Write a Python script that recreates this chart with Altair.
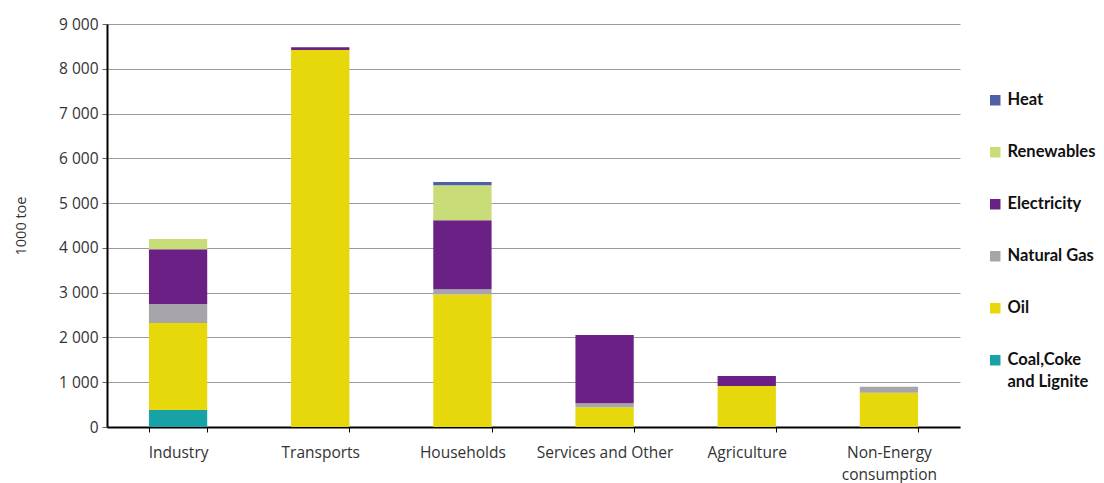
import altair as alt
import pandas as pd

categories = ["Industry", "Transports", "Households", "Services and Other",
              "Agriculture", "Non-Energy consumption"]
series = ["Coal,Coke and Lignite", "Oil", "Natural Gas", "Electricity", "Renewables", "Heat"]
coal = [380, 0, 0, 0, 0, 0]
oil = [1940, 8420, 2960, 440, 915, 765]
gas = [425, 0, 115, 90, 0, 135]
elec = [1225, 60, 1545, 1525, 225, 0]
renew = [230, 0, 780, 0, 0, 0]
heat = [0, 0, 70, 0, 0, 0]
colors = ["#18a2a5", "#e6d80a", "#a7a5ab", "#6b2085", "#c8dc78", "#4f5fa8"]

values = [coal, oil, gas, elec, renew, heat]
rows = []
for si, (s, vals) in enumerate(zip(series, values)):
    for c, v in zip(categories, vals):
        rows.append({"category": c, "series": s, "value": v, "order": si})
df = pd.DataFrame(rows)

legend_order = list(reversed(series))
legend_colors = list(reversed(colors))

FONT = "Open Sans"

chart = alt.Chart(df).mark_bar().encode(
    x=alt.X("category:N", sort=categories, title=None,
            scale=alt.Scale(paddingInner=0.59, paddingOuter=0.295),
            axis=alt.Axis(labelAngle=0, labelFontSize=15.5, labelColor="#333333",
                          labelFont=FONT, labelPadding=13, tickBand="extent",
                          labelLineHeight=22,
                          tickColor="#000000", tickSize=5, domainColor="#000000",
                          domainWidth=2,
                          labelExpr="datum.value == 'Non-Energy consumption' ? ['Non-Energy', 'consumption'] : datum.value")),
    y=alt.Y("value:Q", stack="zero", title="1000 toe",
            scale=alt.Scale(domain=[0, 9000], nice=False),
            axis=alt.Axis(values=list(range(0, 9001, 1000)), labelFontSize=15.5,
                          labelColor="#333333", labelFont=FONT, labelPadding=4,
                          labelExpr="replace(format(datum.value, ','), ',', ' ')",
                          tickColor="#666666", tickSize=5, domainColor="#000000",
                          domainWidth=2, gridColor="#9a9a9a", gridWidth=1,
                          titleFont=FONT, titleFontSize=14.5, titleFontWeight="normal",
                          titleColor="#333333", titlePadding=30)),
    color=alt.Color("series:N",
                    scale=alt.Scale(domain=legend_order, range=legend_colors),
                    legend=alt.Legend(title=None, orient="none", legendX=880, legendY=68,
                                      symbolType="square", symbolSize=110,
                                      symbolStrokeWidth=0, labelFont="Lato",
                                      labelFontSize=16.5, labelFontWeight="bold",
                                      labelColor="#111111", rowPadding=35,
                                      labelOffset=4, labelLimit=200,
                                      labelExpr="datum.value == 'Coal,Coke and Lignite' ? ['Coal,Coke', 'and Lignite'] : datum.value")),
    order=alt.Order("order:Q", sort="ascending"),
).properties(
    width=853, height=403,
    autosize=alt.AutoSizeParams(type="none"),
    padding={"left": 99, "top": 16, "right": 136, "bottom": 56},
).configure(
    background="#ffffff",
    style={"guide-label": {"lineHeight": 22}},
).configure_view(strokeWidth=0, stroke=None)

chart.save("out.html", embed_options={"renderer": "svg", "actions": False})
